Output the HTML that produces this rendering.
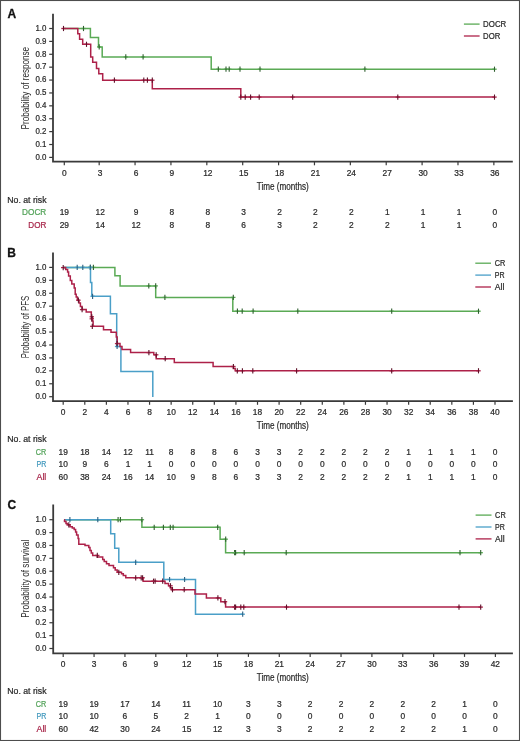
<!DOCTYPE html>
<html><head><meta charset="utf-8"><style>
html,body{margin:0;padding:0;background:#fff;}
body{width:520px;height:741px;overflow:hidden;}
svg{display:block;font-family:"Liberation Sans", sans-serif;will-change:transform;}
</style></head><body>
<svg width="520" height="741" viewBox="0 0 520 741">
<rect x="0" y="0" width="520" height="741" fill="#fff"/>
<text x="7.4" y="17.6" font-size="12" font-weight="bold" fill="#111" stroke="#111" stroke-width="0.3">A</text>
<path d="M53 13.8V161.7H512.8" fill="none" stroke="#3a3a3a" stroke-width="1.8"/>
<path d="M49.2 157.4H53" stroke="#3a3a3a" stroke-width="1.2"/>
<text x="46.4" y="159.7" font-size="8.4" text-anchor="end" fill="#2a2a2a" stroke="#2a2a2a" stroke-width="0.22" textLength="11" lengthAdjust="spacingAndGlyphs">0.0</text>
<path d="M49.2 144.51H53" stroke="#3a3a3a" stroke-width="1.2"/>
<text x="46.4" y="146.81" font-size="8.4" text-anchor="end" fill="#2a2a2a" stroke="#2a2a2a" stroke-width="0.22" textLength="11" lengthAdjust="spacingAndGlyphs">0.1</text>
<path d="M49.2 131.62H53" stroke="#3a3a3a" stroke-width="1.2"/>
<text x="46.4" y="133.92" font-size="8.4" text-anchor="end" fill="#2a2a2a" stroke="#2a2a2a" stroke-width="0.22" textLength="11" lengthAdjust="spacingAndGlyphs">0.2</text>
<path d="M49.2 118.73H53" stroke="#3a3a3a" stroke-width="1.2"/>
<text x="46.4" y="121.03" font-size="8.4" text-anchor="end" fill="#2a2a2a" stroke="#2a2a2a" stroke-width="0.22" textLength="11" lengthAdjust="spacingAndGlyphs">0.3</text>
<path d="M49.2 105.84H53" stroke="#3a3a3a" stroke-width="1.2"/>
<text x="46.4" y="108.14" font-size="8.4" text-anchor="end" fill="#2a2a2a" stroke="#2a2a2a" stroke-width="0.22" textLength="11" lengthAdjust="spacingAndGlyphs">0.4</text>
<path d="M49.2 92.95H53" stroke="#3a3a3a" stroke-width="1.2"/>
<text x="46.4" y="95.25" font-size="8.4" text-anchor="end" fill="#2a2a2a" stroke="#2a2a2a" stroke-width="0.22" textLength="11" lengthAdjust="spacingAndGlyphs">0.5</text>
<path d="M49.2 80.06H53" stroke="#3a3a3a" stroke-width="1.2"/>
<text x="46.4" y="82.36" font-size="8.4" text-anchor="end" fill="#2a2a2a" stroke="#2a2a2a" stroke-width="0.22" textLength="11" lengthAdjust="spacingAndGlyphs">0.6</text>
<path d="M49.2 67.17H53" stroke="#3a3a3a" stroke-width="1.2"/>
<text x="46.4" y="69.47" font-size="8.4" text-anchor="end" fill="#2a2a2a" stroke="#2a2a2a" stroke-width="0.22" textLength="11" lengthAdjust="spacingAndGlyphs">0.7</text>
<path d="M49.2 54.28H53" stroke="#3a3a3a" stroke-width="1.2"/>
<text x="46.4" y="56.58" font-size="8.4" text-anchor="end" fill="#2a2a2a" stroke="#2a2a2a" stroke-width="0.22" textLength="11" lengthAdjust="spacingAndGlyphs">0.8</text>
<path d="M49.2 41.39H53" stroke="#3a3a3a" stroke-width="1.2"/>
<text x="46.4" y="43.69" font-size="8.4" text-anchor="end" fill="#2a2a2a" stroke="#2a2a2a" stroke-width="0.22" textLength="11" lengthAdjust="spacingAndGlyphs">0.9</text>
<path d="M49.2 28.5H53" stroke="#3a3a3a" stroke-width="1.2"/>
<text x="46.4" y="30.8" font-size="8.4" text-anchor="end" fill="#2a2a2a" stroke="#2a2a2a" stroke-width="0.22" textLength="11" lengthAdjust="spacingAndGlyphs">1.0</text>
<path d="M64.3 161.7V165.3" stroke="#3a3a3a" stroke-width="1.2"/>
<text x="64.3" y="175.6" font-size="8.4" text-anchor="middle" fill="#2a2a2a" stroke="#2a2a2a" stroke-width="0.22" >0</text>
<path d="M99.18 161.7V165.3" stroke="#3a3a3a" stroke-width="1.2"/>
<text x="100.18" y="175.6" font-size="8.4" text-anchor="middle" fill="#2a2a2a" stroke="#2a2a2a" stroke-width="0.22" >3</text>
<path d="M135.06 161.7V165.3" stroke="#3a3a3a" stroke-width="1.2"/>
<text x="136.06" y="175.6" font-size="8.4" text-anchor="middle" fill="#2a2a2a" stroke="#2a2a2a" stroke-width="0.22" >6</text>
<path d="M170.94 161.7V165.3" stroke="#3a3a3a" stroke-width="1.2"/>
<text x="171.94" y="175.6" font-size="8.4" text-anchor="middle" fill="#2a2a2a" stroke="#2a2a2a" stroke-width="0.22" >9</text>
<path d="M206.82 161.7V165.3" stroke="#3a3a3a" stroke-width="1.2"/>
<text x="207.82" y="175.6" font-size="8.4" text-anchor="middle" fill="#2a2a2a" stroke="#2a2a2a" stroke-width="0.22" >12</text>
<path d="M242.7 161.7V165.3" stroke="#3a3a3a" stroke-width="1.2"/>
<text x="243.7" y="175.6" font-size="8.4" text-anchor="middle" fill="#2a2a2a" stroke="#2a2a2a" stroke-width="0.22" >15</text>
<path d="M278.58 161.7V165.3" stroke="#3a3a3a" stroke-width="1.2"/>
<text x="279.58" y="175.6" font-size="8.4" text-anchor="middle" fill="#2a2a2a" stroke="#2a2a2a" stroke-width="0.22" >18</text>
<path d="M314.46 161.7V165.3" stroke="#3a3a3a" stroke-width="1.2"/>
<text x="315.46" y="175.6" font-size="8.4" text-anchor="middle" fill="#2a2a2a" stroke="#2a2a2a" stroke-width="0.22" >21</text>
<path d="M350.34 161.7V165.3" stroke="#3a3a3a" stroke-width="1.2"/>
<text x="351.34" y="175.6" font-size="8.4" text-anchor="middle" fill="#2a2a2a" stroke="#2a2a2a" stroke-width="0.22" >24</text>
<path d="M386.22 161.7V165.3" stroke="#3a3a3a" stroke-width="1.2"/>
<text x="387.22" y="175.6" font-size="8.4" text-anchor="middle" fill="#2a2a2a" stroke="#2a2a2a" stroke-width="0.22" >27</text>
<path d="M422.1 161.7V165.3" stroke="#3a3a3a" stroke-width="1.2"/>
<text x="423.1" y="175.6" font-size="8.4" text-anchor="middle" fill="#2a2a2a" stroke="#2a2a2a" stroke-width="0.22" >30</text>
<path d="M457.98 161.7V165.3" stroke="#3a3a3a" stroke-width="1.2"/>
<text x="458.98" y="175.6" font-size="8.4" text-anchor="middle" fill="#2a2a2a" stroke="#2a2a2a" stroke-width="0.22" >33</text>
<path d="M493.86 161.7V165.3" stroke="#3a3a3a" stroke-width="1.2"/>
<text x="494.86" y="175.6" font-size="8.4" text-anchor="middle" fill="#2a2a2a" stroke="#2a2a2a" stroke-width="0.22" >36</text>
<text x="282.8" y="190" font-size="10" text-anchor="middle" fill="#2a2a2a" stroke="#2a2a2a" stroke-width="0.22" textLength="52" lengthAdjust="spacingAndGlyphs">Time (months)</text>
<text transform="translate(28.8 88.2) rotate(-90)" font-size="10" text-anchor="middle" fill="#2a2a2a" textLength="82.5" lengthAdjust="spacingAndGlyphs">Probability of response</text>
<path d="M463.9 24.1H479.6" stroke="#5aaa55" stroke-width="1.3"/>
<text x="483.1" y="27.1" font-size="8.4" text-anchor="start" fill="#2a2a2a" stroke="#2a2a2a" stroke-width="0.22" textLength="23.2" lengthAdjust="spacingAndGlyphs">DOCR</text>
<path d="M463.9 36H479.6" stroke="#ad2149" stroke-width="1.3"/>
<text x="483.1" y="39" font-size="8.4" text-anchor="start" fill="#2a2a2a" stroke="#2a2a2a" stroke-width="0.22" textLength="17.2" lengthAdjust="spacingAndGlyphs">DOR</text>
<text x="7.3" y="203.2" font-size="8.4" text-anchor="start" fill="#2a2a2a" stroke="#2a2a2a" stroke-width="0.22" textLength="39.2" lengthAdjust="spacingAndGlyphs">No. at risk</text>
<text x="46.3" y="215.1" font-size="8.4" text-anchor="end" fill="#52a258" stroke="#52a258" stroke-width="0.22" textLength="24.2" lengthAdjust="spacingAndGlyphs">DOCR</text>
<text x="64.3" y="215.1" font-size="8.4" text-anchor="middle" fill="#2a2a2a" stroke="#2a2a2a" stroke-width="0.22" >19</text>
<text x="100.18" y="215.1" font-size="8.4" text-anchor="middle" fill="#2a2a2a" stroke="#2a2a2a" stroke-width="0.22" >12</text>
<text x="136.06" y="215.1" font-size="8.4" text-anchor="middle" fill="#2a2a2a" stroke="#2a2a2a" stroke-width="0.22" >9</text>
<text x="171.94" y="215.1" font-size="8.4" text-anchor="middle" fill="#2a2a2a" stroke="#2a2a2a" stroke-width="0.22" >8</text>
<text x="207.82" y="215.1" font-size="8.4" text-anchor="middle" fill="#2a2a2a" stroke="#2a2a2a" stroke-width="0.22" >8</text>
<text x="243.7" y="215.1" font-size="8.4" text-anchor="middle" fill="#2a2a2a" stroke="#2a2a2a" stroke-width="0.22" >3</text>
<text x="279.58" y="215.1" font-size="8.4" text-anchor="middle" fill="#2a2a2a" stroke="#2a2a2a" stroke-width="0.22" >2</text>
<text x="315.46" y="215.1" font-size="8.4" text-anchor="middle" fill="#2a2a2a" stroke="#2a2a2a" stroke-width="0.22" >2</text>
<text x="351.34" y="215.1" font-size="8.4" text-anchor="middle" fill="#2a2a2a" stroke="#2a2a2a" stroke-width="0.22" >2</text>
<text x="387.22" y="215.1" font-size="8.4" text-anchor="middle" fill="#2a2a2a" stroke="#2a2a2a" stroke-width="0.22" >1</text>
<text x="423.1" y="215.1" font-size="8.4" text-anchor="middle" fill="#2a2a2a" stroke="#2a2a2a" stroke-width="0.22" >1</text>
<text x="458.98" y="215.1" font-size="8.4" text-anchor="middle" fill="#2a2a2a" stroke="#2a2a2a" stroke-width="0.22" >1</text>
<text x="494.86" y="215.1" font-size="8.4" text-anchor="middle" fill="#2a2a2a" stroke="#2a2a2a" stroke-width="0.22" >0</text>
<text x="46.3" y="227.7" font-size="8.4" text-anchor="end" fill="#a8264a" stroke="#a8264a" stroke-width="0.22" textLength="18.0" lengthAdjust="spacingAndGlyphs">DOR</text>
<text x="64.3" y="227.7" font-size="8.4" text-anchor="middle" fill="#2a2a2a" stroke="#2a2a2a" stroke-width="0.22" >29</text>
<text x="100.18" y="227.7" font-size="8.4" text-anchor="middle" fill="#2a2a2a" stroke="#2a2a2a" stroke-width="0.22" >14</text>
<text x="136.06" y="227.7" font-size="8.4" text-anchor="middle" fill="#2a2a2a" stroke="#2a2a2a" stroke-width="0.22" >12</text>
<text x="171.94" y="227.7" font-size="8.4" text-anchor="middle" fill="#2a2a2a" stroke="#2a2a2a" stroke-width="0.22" >8</text>
<text x="207.82" y="227.7" font-size="8.4" text-anchor="middle" fill="#2a2a2a" stroke="#2a2a2a" stroke-width="0.22" >8</text>
<text x="243.7" y="227.7" font-size="8.4" text-anchor="middle" fill="#2a2a2a" stroke="#2a2a2a" stroke-width="0.22" >6</text>
<text x="279.58" y="227.7" font-size="8.4" text-anchor="middle" fill="#2a2a2a" stroke="#2a2a2a" stroke-width="0.22" >3</text>
<text x="315.46" y="227.7" font-size="8.4" text-anchor="middle" fill="#2a2a2a" stroke="#2a2a2a" stroke-width="0.22" >2</text>
<text x="351.34" y="227.7" font-size="8.4" text-anchor="middle" fill="#2a2a2a" stroke="#2a2a2a" stroke-width="0.22" >2</text>
<text x="387.22" y="227.7" font-size="8.4" text-anchor="middle" fill="#2a2a2a" stroke="#2a2a2a" stroke-width="0.22" >2</text>
<text x="423.1" y="227.7" font-size="8.4" text-anchor="middle" fill="#2a2a2a" stroke="#2a2a2a" stroke-width="0.22" >1</text>
<text x="458.98" y="227.7" font-size="8.4" text-anchor="middle" fill="#2a2a2a" stroke="#2a2a2a" stroke-width="0.22" >1</text>
<text x="494.86" y="227.7" font-size="8.4" text-anchor="middle" fill="#2a2a2a" stroke="#2a2a2a" stroke-width="0.22" >0</text>
<path d="M64.3 28.5 L90.4 28.5 L90.4 37.4 L98.5 37.4 L98.5 46.9 L102.2 46.9 L102.2 56.9 L211.2 56.9 L211.2 69.2 L494.5 69.2" fill="none" stroke="#5aaa55" stroke-width="1.5" stroke-linejoin="miter"/>
<path d="M81.3 28.5h4.4" stroke="#5aaa55" stroke-width="1.3"/><path d="M83.5 25.9v5.2" stroke="#2f5f2f" stroke-width="1.1"/>
<path d="M97 46.9h4.4" stroke="#5aaa55" stroke-width="1.3"/><path d="M99.2 44.3v5.2" stroke="#2f5f2f" stroke-width="1.1"/>
<path d="M123.6 56.9h4.4" stroke="#5aaa55" stroke-width="1.3"/><path d="M125.8 54.3v5.2" stroke="#2f5f2f" stroke-width="1.1"/>
<path d="M140.9 56.9h4.4" stroke="#5aaa55" stroke-width="1.3"/><path d="M143.1 54.3v5.2" stroke="#2f5f2f" stroke-width="1.1"/>
<path d="M216.1 69.2h4.4" stroke="#5aaa55" stroke-width="1.3"/><path d="M218.3 66.6v5.2" stroke="#2f5f2f" stroke-width="1.1"/>
<path d="M223.8 69.2h4.4" stroke="#5aaa55" stroke-width="1.3"/><path d="M226 66.6v5.2" stroke="#2f5f2f" stroke-width="1.1"/>
<path d="M227 69.2h4.4" stroke="#5aaa55" stroke-width="1.3"/><path d="M229.2 66.6v5.2" stroke="#2f5f2f" stroke-width="1.1"/>
<path d="M237.8 69.2h4.4" stroke="#5aaa55" stroke-width="1.3"/><path d="M240 66.6v5.2" stroke="#2f5f2f" stroke-width="1.1"/>
<path d="M257.8 69.2h4.4" stroke="#5aaa55" stroke-width="1.3"/><path d="M260 66.6v5.2" stroke="#2f5f2f" stroke-width="1.1"/>
<path d="M362.7 69.2h4.4" stroke="#5aaa55" stroke-width="1.3"/><path d="M364.9 66.6v5.2" stroke="#2f5f2f" stroke-width="1.1"/>
<path d="M492.3 69.2h4.4" stroke="#5aaa55" stroke-width="1.3"/><path d="M494.5 66.6v5.2" stroke="#2f5f2f" stroke-width="1.1"/>
<path d="M63.5 28.5 L77.8 28.5 L77.8 33.8 L79.6 33.8 L79.6 39.2 L82.7 39.2 L82.7 44.3 L90.7 44.3 L90.7 56.9 L92.7 56.9 L92.7 62.3 L96.5 62.3 L96.5 68.5 L98.8 68.5 L98.8 73.8 L102.7 73.8 L102.7 80.2 L152.3 80.2 L152.3 88.8 L240.8 88.8 L240.8 97.1 L494.5 97.1" fill="none" stroke="#ad2149" stroke-width="1.5" stroke-linejoin="miter"/>
<path d="M61.3 28.5h4.4" stroke="#ad2149" stroke-width="1.3"/><path d="M63.5 25.9v5.2" stroke="#5e1028" stroke-width="1.1"/>
<path d="M84.3 44.3h4.4" stroke="#ad2149" stroke-width="1.3"/><path d="M86.5 41.7v5.2" stroke="#5e1028" stroke-width="1.1"/>
<path d="M112.2 80.2h4.4" stroke="#ad2149" stroke-width="1.3"/><path d="M114.4 77.6v5.2" stroke="#5e1028" stroke-width="1.1"/>
<path d="M141.6 80.2h4.4" stroke="#ad2149" stroke-width="1.3"/><path d="M143.8 77.6v5.2" stroke="#5e1028" stroke-width="1.1"/>
<path d="M145.2 80.2h4.4" stroke="#ad2149" stroke-width="1.3"/><path d="M147.4 77.6v5.2" stroke="#5e1028" stroke-width="1.1"/>
<path d="M150.1 80.2h4.4" stroke="#ad2149" stroke-width="1.3"/><path d="M152.3 77.6v5.2" stroke="#5e1028" stroke-width="1.1"/>
<path d="M238.6 97.1h4.4" stroke="#ad2149" stroke-width="1.3"/><path d="M240.8 94.5v5.2" stroke="#5e1028" stroke-width="1.1"/>
<path d="M243 97.1h4.4" stroke="#ad2149" stroke-width="1.3"/><path d="M245.2 94.5v5.2" stroke="#5e1028" stroke-width="1.1"/>
<path d="M248.4 97.1h4.4" stroke="#ad2149" stroke-width="1.3"/><path d="M250.6 94.5v5.2" stroke="#5e1028" stroke-width="1.1"/>
<path d="M257 97.1h4.4" stroke="#ad2149" stroke-width="1.3"/><path d="M259.2 94.5v5.2" stroke="#5e1028" stroke-width="1.1"/>
<path d="M290.5 97.1h4.4" stroke="#ad2149" stroke-width="1.3"/><path d="M292.7 94.5v5.2" stroke="#5e1028" stroke-width="1.1"/>
<path d="M395.6 97.1h4.4" stroke="#ad2149" stroke-width="1.3"/><path d="M397.8 94.5v5.2" stroke="#5e1028" stroke-width="1.1"/>
<path d="M492.3 97.1h4.4" stroke="#ad2149" stroke-width="1.3"/><path d="M494.5 94.5v5.2" stroke="#5e1028" stroke-width="1.1"/>
<text x="7.2" y="256.8" font-size="12" font-weight="bold" fill="#111" stroke="#111" stroke-width="0.3">B</text>
<path d="M53 252.4V401.2H512.9" fill="none" stroke="#3a3a3a" stroke-width="1.8"/>
<path d="M49.2 396.7H53" stroke="#3a3a3a" stroke-width="1.2"/>
<text x="46.4" y="399" font-size="8.4" text-anchor="end" fill="#2a2a2a" stroke="#2a2a2a" stroke-width="0.22" textLength="11" lengthAdjust="spacingAndGlyphs">0.0</text>
<path d="M49.2 383.77H53" stroke="#3a3a3a" stroke-width="1.2"/>
<text x="46.4" y="386.07" font-size="8.4" text-anchor="end" fill="#2a2a2a" stroke="#2a2a2a" stroke-width="0.22" textLength="11" lengthAdjust="spacingAndGlyphs">0.1</text>
<path d="M49.2 370.84H53" stroke="#3a3a3a" stroke-width="1.2"/>
<text x="46.4" y="373.14" font-size="8.4" text-anchor="end" fill="#2a2a2a" stroke="#2a2a2a" stroke-width="0.22" textLength="11" lengthAdjust="spacingAndGlyphs">0.2</text>
<path d="M49.2 357.91H53" stroke="#3a3a3a" stroke-width="1.2"/>
<text x="46.4" y="360.21" font-size="8.4" text-anchor="end" fill="#2a2a2a" stroke="#2a2a2a" stroke-width="0.22" textLength="11" lengthAdjust="spacingAndGlyphs">0.3</text>
<path d="M49.2 344.98H53" stroke="#3a3a3a" stroke-width="1.2"/>
<text x="46.4" y="347.28" font-size="8.4" text-anchor="end" fill="#2a2a2a" stroke="#2a2a2a" stroke-width="0.22" textLength="11" lengthAdjust="spacingAndGlyphs">0.4</text>
<path d="M49.2 332.05H53" stroke="#3a3a3a" stroke-width="1.2"/>
<text x="46.4" y="334.35" font-size="8.4" text-anchor="end" fill="#2a2a2a" stroke="#2a2a2a" stroke-width="0.22" textLength="11" lengthAdjust="spacingAndGlyphs">0.5</text>
<path d="M49.2 319.12H53" stroke="#3a3a3a" stroke-width="1.2"/>
<text x="46.4" y="321.42" font-size="8.4" text-anchor="end" fill="#2a2a2a" stroke="#2a2a2a" stroke-width="0.22" textLength="11" lengthAdjust="spacingAndGlyphs">0.6</text>
<path d="M49.2 306.19H53" stroke="#3a3a3a" stroke-width="1.2"/>
<text x="46.4" y="308.49" font-size="8.4" text-anchor="end" fill="#2a2a2a" stroke="#2a2a2a" stroke-width="0.22" textLength="11" lengthAdjust="spacingAndGlyphs">0.7</text>
<path d="M49.2 293.26H53" stroke="#3a3a3a" stroke-width="1.2"/>
<text x="46.4" y="295.56" font-size="8.4" text-anchor="end" fill="#2a2a2a" stroke="#2a2a2a" stroke-width="0.22" textLength="11" lengthAdjust="spacingAndGlyphs">0.8</text>
<path d="M49.2 280.33H53" stroke="#3a3a3a" stroke-width="1.2"/>
<text x="46.4" y="282.63" font-size="8.4" text-anchor="end" fill="#2a2a2a" stroke="#2a2a2a" stroke-width="0.22" textLength="11" lengthAdjust="spacingAndGlyphs">0.9</text>
<path d="M49.2 267.4H53" stroke="#3a3a3a" stroke-width="1.2"/>
<text x="46.4" y="269.7" font-size="8.4" text-anchor="end" fill="#2a2a2a" stroke="#2a2a2a" stroke-width="0.22" textLength="11" lengthAdjust="spacingAndGlyphs">1.0</text>
<path d="M63.2 401.2V404.8" stroke="#3a3a3a" stroke-width="1.2"/>
<text x="63.2" y="415.4" font-size="8.4" text-anchor="middle" fill="#2a2a2a" stroke="#2a2a2a" stroke-width="0.22" >0</text>
<path d="M84.79 401.2V404.8" stroke="#3a3a3a" stroke-width="1.2"/>
<text x="84.79" y="415.4" font-size="8.4" text-anchor="middle" fill="#2a2a2a" stroke="#2a2a2a" stroke-width="0.22" >2</text>
<path d="M106.38 401.2V404.8" stroke="#3a3a3a" stroke-width="1.2"/>
<text x="106.38" y="415.4" font-size="8.4" text-anchor="middle" fill="#2a2a2a" stroke="#2a2a2a" stroke-width="0.22" >4</text>
<path d="M127.97 401.2V404.8" stroke="#3a3a3a" stroke-width="1.2"/>
<text x="127.97" y="415.4" font-size="8.4" text-anchor="middle" fill="#2a2a2a" stroke="#2a2a2a" stroke-width="0.22" >6</text>
<path d="M149.56 401.2V404.8" stroke="#3a3a3a" stroke-width="1.2"/>
<text x="149.56" y="415.4" font-size="8.4" text-anchor="middle" fill="#2a2a2a" stroke="#2a2a2a" stroke-width="0.22" >8</text>
<path d="M171.15 401.2V404.8" stroke="#3a3a3a" stroke-width="1.2"/>
<text x="171.15" y="415.4" font-size="8.4" text-anchor="middle" fill="#2a2a2a" stroke="#2a2a2a" stroke-width="0.22" >10</text>
<path d="M192.74 401.2V404.8" stroke="#3a3a3a" stroke-width="1.2"/>
<text x="192.74" y="415.4" font-size="8.4" text-anchor="middle" fill="#2a2a2a" stroke="#2a2a2a" stroke-width="0.22" >12</text>
<path d="M214.33 401.2V404.8" stroke="#3a3a3a" stroke-width="1.2"/>
<text x="214.33" y="415.4" font-size="8.4" text-anchor="middle" fill="#2a2a2a" stroke="#2a2a2a" stroke-width="0.22" >14</text>
<path d="M235.92 401.2V404.8" stroke="#3a3a3a" stroke-width="1.2"/>
<text x="235.92" y="415.4" font-size="8.4" text-anchor="middle" fill="#2a2a2a" stroke="#2a2a2a" stroke-width="0.22" >16</text>
<path d="M257.51 401.2V404.8" stroke="#3a3a3a" stroke-width="1.2"/>
<text x="257.51" y="415.4" font-size="8.4" text-anchor="middle" fill="#2a2a2a" stroke="#2a2a2a" stroke-width="0.22" >18</text>
<path d="M279.1 401.2V404.8" stroke="#3a3a3a" stroke-width="1.2"/>
<text x="279.1" y="415.4" font-size="8.4" text-anchor="middle" fill="#2a2a2a" stroke="#2a2a2a" stroke-width="0.22" >20</text>
<path d="M300.69 401.2V404.8" stroke="#3a3a3a" stroke-width="1.2"/>
<text x="300.69" y="415.4" font-size="8.4" text-anchor="middle" fill="#2a2a2a" stroke="#2a2a2a" stroke-width="0.22" >22</text>
<path d="M322.28 401.2V404.8" stroke="#3a3a3a" stroke-width="1.2"/>
<text x="322.28" y="415.4" font-size="8.4" text-anchor="middle" fill="#2a2a2a" stroke="#2a2a2a" stroke-width="0.22" >24</text>
<path d="M343.87 401.2V404.8" stroke="#3a3a3a" stroke-width="1.2"/>
<text x="343.87" y="415.4" font-size="8.4" text-anchor="middle" fill="#2a2a2a" stroke="#2a2a2a" stroke-width="0.22" >26</text>
<path d="M365.46 401.2V404.8" stroke="#3a3a3a" stroke-width="1.2"/>
<text x="365.46" y="415.4" font-size="8.4" text-anchor="middle" fill="#2a2a2a" stroke="#2a2a2a" stroke-width="0.22" >28</text>
<path d="M387.05 401.2V404.8" stroke="#3a3a3a" stroke-width="1.2"/>
<text x="387.05" y="415.4" font-size="8.4" text-anchor="middle" fill="#2a2a2a" stroke="#2a2a2a" stroke-width="0.22" >30</text>
<path d="M408.64 401.2V404.8" stroke="#3a3a3a" stroke-width="1.2"/>
<text x="408.64" y="415.4" font-size="8.4" text-anchor="middle" fill="#2a2a2a" stroke="#2a2a2a" stroke-width="0.22" >32</text>
<path d="M430.23 401.2V404.8" stroke="#3a3a3a" stroke-width="1.2"/>
<text x="430.23" y="415.4" font-size="8.4" text-anchor="middle" fill="#2a2a2a" stroke="#2a2a2a" stroke-width="0.22" >34</text>
<path d="M451.82 401.2V404.8" stroke="#3a3a3a" stroke-width="1.2"/>
<text x="451.82" y="415.4" font-size="8.4" text-anchor="middle" fill="#2a2a2a" stroke="#2a2a2a" stroke-width="0.22" >36</text>
<path d="M473.41 401.2V404.8" stroke="#3a3a3a" stroke-width="1.2"/>
<text x="473.41" y="415.4" font-size="8.4" text-anchor="middle" fill="#2a2a2a" stroke="#2a2a2a" stroke-width="0.22" >38</text>
<path d="M495 401.2V404.8" stroke="#3a3a3a" stroke-width="1.2"/>
<text x="495" y="415.4" font-size="8.4" text-anchor="middle" fill="#2a2a2a" stroke="#2a2a2a" stroke-width="0.22" >40</text>
<text x="282.8" y="429.4" font-size="10" text-anchor="middle" fill="#2a2a2a" stroke="#2a2a2a" stroke-width="0.22" textLength="52" lengthAdjust="spacingAndGlyphs">Time (months)</text>
<text transform="translate(28.8 327) rotate(-90)" font-size="10" text-anchor="middle" fill="#2a2a2a" textLength="62.6" lengthAdjust="spacingAndGlyphs">Probability of PFS</text>
<path d="M475.3 263.2H491" stroke="#5aaa55" stroke-width="1.3"/>
<text x="494.8" y="266.2" font-size="8.4" text-anchor="start" fill="#2a2a2a" stroke="#2a2a2a" stroke-width="0.22" textLength="10.6" lengthAdjust="spacingAndGlyphs">CR</text>
<path d="M475.3 275.1H491" stroke="#4a9fc8" stroke-width="1.3"/>
<text x="494.8" y="278.1" font-size="8.4" text-anchor="start" fill="#2a2a2a" stroke="#2a2a2a" stroke-width="0.22" textLength="9.8" lengthAdjust="spacingAndGlyphs">PR</text>
<path d="M475.3 287H491" stroke="#ad2149" stroke-width="1.3"/>
<text x="494.8" y="290" font-size="8.4" text-anchor="start" fill="#2a2a2a" stroke="#2a2a2a" stroke-width="0.22" textLength="9.5" lengthAdjust="spacingAndGlyphs">All</text>
<text x="7.3" y="442.4" font-size="8.4" text-anchor="start" fill="#2a2a2a" stroke="#2a2a2a" stroke-width="0.22" textLength="39.2" lengthAdjust="spacingAndGlyphs">No. at risk</text>
<text x="46.3" y="454.6" font-size="8.4" text-anchor="end" fill="#52a258" stroke="#52a258" stroke-width="0.22" textLength="10.5" lengthAdjust="spacingAndGlyphs">CR</text>
<text x="63.2" y="454.6" font-size="8.4" text-anchor="middle" fill="#2a2a2a" stroke="#2a2a2a" stroke-width="0.22" >19</text>
<text x="84.79" y="454.6" font-size="8.4" text-anchor="middle" fill="#2a2a2a" stroke="#2a2a2a" stroke-width="0.22" >18</text>
<text x="106.38" y="454.6" font-size="8.4" text-anchor="middle" fill="#2a2a2a" stroke="#2a2a2a" stroke-width="0.22" >14</text>
<text x="127.97" y="454.6" font-size="8.4" text-anchor="middle" fill="#2a2a2a" stroke="#2a2a2a" stroke-width="0.22" >12</text>
<text x="149.56" y="454.6" font-size="8.4" text-anchor="middle" fill="#2a2a2a" stroke="#2a2a2a" stroke-width="0.22" >11</text>
<text x="171.15" y="454.6" font-size="8.4" text-anchor="middle" fill="#2a2a2a" stroke="#2a2a2a" stroke-width="0.22" >8</text>
<text x="192.74" y="454.6" font-size="8.4" text-anchor="middle" fill="#2a2a2a" stroke="#2a2a2a" stroke-width="0.22" >8</text>
<text x="214.33" y="454.6" font-size="8.4" text-anchor="middle" fill="#2a2a2a" stroke="#2a2a2a" stroke-width="0.22" >8</text>
<text x="235.92" y="454.6" font-size="8.4" text-anchor="middle" fill="#2a2a2a" stroke="#2a2a2a" stroke-width="0.22" >6</text>
<text x="257.51" y="454.6" font-size="8.4" text-anchor="middle" fill="#2a2a2a" stroke="#2a2a2a" stroke-width="0.22" >3</text>
<text x="279.1" y="454.6" font-size="8.4" text-anchor="middle" fill="#2a2a2a" stroke="#2a2a2a" stroke-width="0.22" >3</text>
<text x="300.69" y="454.6" font-size="8.4" text-anchor="middle" fill="#2a2a2a" stroke="#2a2a2a" stroke-width="0.22" >2</text>
<text x="322.28" y="454.6" font-size="8.4" text-anchor="middle" fill="#2a2a2a" stroke="#2a2a2a" stroke-width="0.22" >2</text>
<text x="343.87" y="454.6" font-size="8.4" text-anchor="middle" fill="#2a2a2a" stroke="#2a2a2a" stroke-width="0.22" >2</text>
<text x="365.46" y="454.6" font-size="8.4" text-anchor="middle" fill="#2a2a2a" stroke="#2a2a2a" stroke-width="0.22" >2</text>
<text x="387.05" y="454.6" font-size="8.4" text-anchor="middle" fill="#2a2a2a" stroke="#2a2a2a" stroke-width="0.22" >2</text>
<text x="408.64" y="454.6" font-size="8.4" text-anchor="middle" fill="#2a2a2a" stroke="#2a2a2a" stroke-width="0.22" >1</text>
<text x="430.23" y="454.6" font-size="8.4" text-anchor="middle" fill="#2a2a2a" stroke="#2a2a2a" stroke-width="0.22" >1</text>
<text x="451.82" y="454.6" font-size="8.4" text-anchor="middle" fill="#2a2a2a" stroke="#2a2a2a" stroke-width="0.22" >1</text>
<text x="473.41" y="454.6" font-size="8.4" text-anchor="middle" fill="#2a2a2a" stroke="#2a2a2a" stroke-width="0.22" >1</text>
<text x="495" y="454.6" font-size="8.4" text-anchor="middle" fill="#2a2a2a" stroke="#2a2a2a" stroke-width="0.22" >0</text>
<text x="46.3" y="467.2" font-size="8.4" text-anchor="end" fill="#4299bd" stroke="#4299bd" stroke-width="0.22" textLength="9.8" lengthAdjust="spacingAndGlyphs">PR</text>
<text x="63.2" y="467.2" font-size="8.4" text-anchor="middle" fill="#2a2a2a" stroke="#2a2a2a" stroke-width="0.22" >10</text>
<text x="84.79" y="467.2" font-size="8.4" text-anchor="middle" fill="#2a2a2a" stroke="#2a2a2a" stroke-width="0.22" >9</text>
<text x="106.38" y="467.2" font-size="8.4" text-anchor="middle" fill="#2a2a2a" stroke="#2a2a2a" stroke-width="0.22" >6</text>
<text x="127.97" y="467.2" font-size="8.4" text-anchor="middle" fill="#2a2a2a" stroke="#2a2a2a" stroke-width="0.22" >1</text>
<text x="149.56" y="467.2" font-size="8.4" text-anchor="middle" fill="#2a2a2a" stroke="#2a2a2a" stroke-width="0.22" >1</text>
<text x="171.15" y="467.2" font-size="8.4" text-anchor="middle" fill="#2a2a2a" stroke="#2a2a2a" stroke-width="0.22" >0</text>
<text x="192.74" y="467.2" font-size="8.4" text-anchor="middle" fill="#2a2a2a" stroke="#2a2a2a" stroke-width="0.22" >0</text>
<text x="214.33" y="467.2" font-size="8.4" text-anchor="middle" fill="#2a2a2a" stroke="#2a2a2a" stroke-width="0.22" >0</text>
<text x="235.92" y="467.2" font-size="8.4" text-anchor="middle" fill="#2a2a2a" stroke="#2a2a2a" stroke-width="0.22" >0</text>
<text x="257.51" y="467.2" font-size="8.4" text-anchor="middle" fill="#2a2a2a" stroke="#2a2a2a" stroke-width="0.22" >0</text>
<text x="279.1" y="467.2" font-size="8.4" text-anchor="middle" fill="#2a2a2a" stroke="#2a2a2a" stroke-width="0.22" >0</text>
<text x="300.69" y="467.2" font-size="8.4" text-anchor="middle" fill="#2a2a2a" stroke="#2a2a2a" stroke-width="0.22" >0</text>
<text x="322.28" y="467.2" font-size="8.4" text-anchor="middle" fill="#2a2a2a" stroke="#2a2a2a" stroke-width="0.22" >0</text>
<text x="343.87" y="467.2" font-size="8.4" text-anchor="middle" fill="#2a2a2a" stroke="#2a2a2a" stroke-width="0.22" >0</text>
<text x="365.46" y="467.2" font-size="8.4" text-anchor="middle" fill="#2a2a2a" stroke="#2a2a2a" stroke-width="0.22" >0</text>
<text x="387.05" y="467.2" font-size="8.4" text-anchor="middle" fill="#2a2a2a" stroke="#2a2a2a" stroke-width="0.22" >0</text>
<text x="408.64" y="467.2" font-size="8.4" text-anchor="middle" fill="#2a2a2a" stroke="#2a2a2a" stroke-width="0.22" >0</text>
<text x="430.23" y="467.2" font-size="8.4" text-anchor="middle" fill="#2a2a2a" stroke="#2a2a2a" stroke-width="0.22" >0</text>
<text x="451.82" y="467.2" font-size="8.4" text-anchor="middle" fill="#2a2a2a" stroke="#2a2a2a" stroke-width="0.22" >0</text>
<text x="473.41" y="467.2" font-size="8.4" text-anchor="middle" fill="#2a2a2a" stroke="#2a2a2a" stroke-width="0.22" >0</text>
<text x="495" y="467.2" font-size="8.4" text-anchor="middle" fill="#2a2a2a" stroke="#2a2a2a" stroke-width="0.22" >0</text>
<text x="46.3" y="479.5" font-size="8.4" text-anchor="end" fill="#a8264a" stroke="#a8264a" stroke-width="0.22" textLength="9.8" lengthAdjust="spacingAndGlyphs">All</text>
<text x="63.2" y="479.5" font-size="8.4" text-anchor="middle" fill="#2a2a2a" stroke="#2a2a2a" stroke-width="0.22" >60</text>
<text x="84.79" y="479.5" font-size="8.4" text-anchor="middle" fill="#2a2a2a" stroke="#2a2a2a" stroke-width="0.22" >38</text>
<text x="106.38" y="479.5" font-size="8.4" text-anchor="middle" fill="#2a2a2a" stroke="#2a2a2a" stroke-width="0.22" >24</text>
<text x="127.97" y="479.5" font-size="8.4" text-anchor="middle" fill="#2a2a2a" stroke="#2a2a2a" stroke-width="0.22" >16</text>
<text x="149.56" y="479.5" font-size="8.4" text-anchor="middle" fill="#2a2a2a" stroke="#2a2a2a" stroke-width="0.22" >14</text>
<text x="171.15" y="479.5" font-size="8.4" text-anchor="middle" fill="#2a2a2a" stroke="#2a2a2a" stroke-width="0.22" >10</text>
<text x="192.74" y="479.5" font-size="8.4" text-anchor="middle" fill="#2a2a2a" stroke="#2a2a2a" stroke-width="0.22" >9</text>
<text x="214.33" y="479.5" font-size="8.4" text-anchor="middle" fill="#2a2a2a" stroke="#2a2a2a" stroke-width="0.22" >8</text>
<text x="235.92" y="479.5" font-size="8.4" text-anchor="middle" fill="#2a2a2a" stroke="#2a2a2a" stroke-width="0.22" >6</text>
<text x="257.51" y="479.5" font-size="8.4" text-anchor="middle" fill="#2a2a2a" stroke="#2a2a2a" stroke-width="0.22" >3</text>
<text x="279.1" y="479.5" font-size="8.4" text-anchor="middle" fill="#2a2a2a" stroke="#2a2a2a" stroke-width="0.22" >3</text>
<text x="300.69" y="479.5" font-size="8.4" text-anchor="middle" fill="#2a2a2a" stroke="#2a2a2a" stroke-width="0.22" >2</text>
<text x="322.28" y="479.5" font-size="8.4" text-anchor="middle" fill="#2a2a2a" stroke="#2a2a2a" stroke-width="0.22" >2</text>
<text x="343.87" y="479.5" font-size="8.4" text-anchor="middle" fill="#2a2a2a" stroke="#2a2a2a" stroke-width="0.22" >2</text>
<text x="365.46" y="479.5" font-size="8.4" text-anchor="middle" fill="#2a2a2a" stroke="#2a2a2a" stroke-width="0.22" >2</text>
<text x="387.05" y="479.5" font-size="8.4" text-anchor="middle" fill="#2a2a2a" stroke="#2a2a2a" stroke-width="0.22" >2</text>
<text x="408.64" y="479.5" font-size="8.4" text-anchor="middle" fill="#2a2a2a" stroke="#2a2a2a" stroke-width="0.22" >1</text>
<text x="430.23" y="479.5" font-size="8.4" text-anchor="middle" fill="#2a2a2a" stroke="#2a2a2a" stroke-width="0.22" >1</text>
<text x="451.82" y="479.5" font-size="8.4" text-anchor="middle" fill="#2a2a2a" stroke="#2a2a2a" stroke-width="0.22" >1</text>
<text x="473.41" y="479.5" font-size="8.4" text-anchor="middle" fill="#2a2a2a" stroke="#2a2a2a" stroke-width="0.22" >1</text>
<text x="495" y="479.5" font-size="8.4" text-anchor="middle" fill="#2a2a2a" stroke="#2a2a2a" stroke-width="0.22" >0</text>
<path d="M63.2 267.4 L114.9 267.4 L114.9 275.8 L120.1 275.8 L120.1 285.9 L155.7 285.9 L155.7 297.4 L232.8 297.4 L232.8 311.2 L478.5 311.2" fill="none" stroke="#5aaa55" stroke-width="1.5" stroke-linejoin="miter"/>
<path d="M88.2 267.4h4.4" stroke="#5aaa55" stroke-width="1.3"/><path d="M90.4 264.8v5.2" stroke="#2f5f2f" stroke-width="1.1"/>
<path d="M91.2 267.4h4.4" stroke="#5aaa55" stroke-width="1.3"/><path d="M93.4 264.8v5.2" stroke="#2f5f2f" stroke-width="1.1"/>
<path d="M146.6 285.9h4.4" stroke="#5aaa55" stroke-width="1.3"/><path d="M148.8 283.3v5.2" stroke="#2f5f2f" stroke-width="1.1"/>
<path d="M153.5 285.9h4.4" stroke="#5aaa55" stroke-width="1.3"/><path d="M155.7 283.3v5.2" stroke="#2f5f2f" stroke-width="1.1"/>
<path d="M162.7 297.4h4.4" stroke="#5aaa55" stroke-width="1.3"/><path d="M164.9 294.8v5.2" stroke="#2f5f2f" stroke-width="1.1"/>
<path d="M231.1 297.4h4.4" stroke="#5aaa55" stroke-width="1.3"/><path d="M233.3 294.8v5.2" stroke="#2f5f2f" stroke-width="1.1"/>
<path d="M235.2 311.2h4.4" stroke="#5aaa55" stroke-width="1.3"/><path d="M237.4 308.6v5.2" stroke="#2f5f2f" stroke-width="1.1"/>
<path d="M240 311.2h4.4" stroke="#5aaa55" stroke-width="1.3"/><path d="M242.2 308.6v5.2" stroke="#2f5f2f" stroke-width="1.1"/>
<path d="M250.9 311.2h4.4" stroke="#5aaa55" stroke-width="1.3"/><path d="M253.1 308.6v5.2" stroke="#2f5f2f" stroke-width="1.1"/>
<path d="M295.6 311.2h4.4" stroke="#5aaa55" stroke-width="1.3"/><path d="M297.8 308.6v5.2" stroke="#2f5f2f" stroke-width="1.1"/>
<path d="M389.5 311.2h4.4" stroke="#5aaa55" stroke-width="1.3"/><path d="M391.7 308.6v5.2" stroke="#2f5f2f" stroke-width="1.1"/>
<path d="M476.3 311.2h4.4" stroke="#5aaa55" stroke-width="1.3"/><path d="M478.5 308.6v5.2" stroke="#2f5f2f" stroke-width="1.1"/>
<path d="M63.2 267.4 L90.5 267.4 L90.5 282.4 L91.8 282.4 L91.8 296.3 L110.4 296.3 L110.4 313.7 L116.7 313.7 L116.7 346.5 L120.9 346.5 L120.9 371.4 L152.8 371.4 L152.8 396.9" fill="none" stroke="#4a9fc8" stroke-width="1.5" stroke-linejoin="miter"/>
<path d="M75 267.4h4.4" stroke="#4a9fc8" stroke-width="1.3"/><path d="M77.2 264.8v5.2" stroke="#2a5f80" stroke-width="1.1"/>
<path d="M80.6 267.4h4.4" stroke="#4a9fc8" stroke-width="1.3"/><path d="M82.8 264.8v5.2" stroke="#2a5f80" stroke-width="1.1"/>
<path d="M88.1 267.4h4.4" stroke="#4a9fc8" stroke-width="1.3"/><path d="M90.3 264.8v5.2" stroke="#2a5f80" stroke-width="1.1"/>
<path d="M90.4 296.3h4.4" stroke="#4a9fc8" stroke-width="1.3"/><path d="M92.6 293.7v5.2" stroke="#2a5f80" stroke-width="1.1"/>
<path d="M114.9 346.5h4.4" stroke="#4a9fc8" stroke-width="1.3"/><path d="M117.1 343.9v5.2" stroke="#2a5f80" stroke-width="1.1"/>
<path d="M63.2 267.6 L65.7 267.6 L65.7 269.5 L67.6 269.5 L67.6 272 L68.6 272 L68.6 276 L70.3 276 L70.3 280.5 L71.8 280.5 L71.8 283.9 L74.2 283.9 L74.2 288 L75.2 288 L75.2 294.3 L76.2 294.3 L76.2 297 L77.4 297 L77.4 300.2 L79 300.2 L79 303 L80.4 303 L80.4 306.5 L82.1 306.5 L82.1 309.6 L86.2 309.6 L86.2 311.9 L91.3 311.9 L91.3 316.8 L92.2 316.8 L92.2 321 L93.1 321 L93.1 326.3 L103.5 326.3 L103.5 329.8 L111 329.8 L111 332.3 L116.3 332.3 L116.3 337 L117.2 337 L117.2 343.6 L120 343.6 L120 346.5 L122 346.5 L122 349.4 L130.6 349.4 L130.6 352.6 L153.8 352.6 L153.8 354.8 L156.2 354.8 L156.2 358.7 L174.3 358.7 L174.3 362.6 L213.1 362.6 L213.1 366.5 L233.4 366.5 L233.4 368.5 L235.2 368.5 L235.2 370.8 L478.5 370.8" fill="none" stroke="#ad2149" stroke-width="1.5" stroke-linejoin="miter"/>
<path d="M61 267.6h4.4" stroke="#ad2149" stroke-width="1.3"/><path d="M63.2 265v5.2" stroke="#5e1028" stroke-width="1.1"/>
<path d="M76.2 300.2h4.4" stroke="#ad2149" stroke-width="1.3"/><path d="M78.4 297.6v5.2" stroke="#5e1028" stroke-width="1.1"/>
<path d="M79.9 309.6h4.4" stroke="#ad2149" stroke-width="1.3"/><path d="M82.1 307v5.2" stroke="#5e1028" stroke-width="1.1"/>
<path d="M89.6 316.8h4.4" stroke="#ad2149" stroke-width="1.3"/><path d="M91.8 314.2v5.2" stroke="#5e1028" stroke-width="1.1"/>
<path d="M89.6 318.8h4.4" stroke="#ad2149" stroke-width="1.3"/><path d="M91.8 316.2v5.2" stroke="#5e1028" stroke-width="1.1"/>
<path d="M90.1 326.3h4.4" stroke="#ad2149" stroke-width="1.3"/><path d="M92.3 323.7v5.2" stroke="#5e1028" stroke-width="1.1"/>
<path d="M114.9 343.6h4.4" stroke="#ad2149" stroke-width="1.3"/><path d="M117.1 341v5.2" stroke="#5e1028" stroke-width="1.1"/>
<path d="M146.7 352.6h4.4" stroke="#ad2149" stroke-width="1.3"/><path d="M148.9 350v5.2" stroke="#5e1028" stroke-width="1.1"/>
<path d="M154 354.8h4.4" stroke="#ad2149" stroke-width="1.3"/><path d="M156.2 352.2v5.2" stroke="#5e1028" stroke-width="1.1"/>
<path d="M163 358.7h4.4" stroke="#ad2149" stroke-width="1.3"/><path d="M165.2 356.1v5.2" stroke="#5e1028" stroke-width="1.1"/>
<path d="M231.2 366.5h4.4" stroke="#ad2149" stroke-width="1.3"/><path d="M233.4 363.9v5.2" stroke="#5e1028" stroke-width="1.1"/>
<path d="M235.1 370.8h4.4" stroke="#ad2149" stroke-width="1.3"/><path d="M237.3 368.2v5.2" stroke="#5e1028" stroke-width="1.1"/>
<path d="M240.2 370.8h4.4" stroke="#ad2149" stroke-width="1.3"/><path d="M242.4 368.2v5.2" stroke="#5e1028" stroke-width="1.1"/>
<path d="M250.6 370.8h4.4" stroke="#ad2149" stroke-width="1.3"/><path d="M252.8 368.2v5.2" stroke="#5e1028" stroke-width="1.1"/>
<path d="M294.4 370.8h4.4" stroke="#ad2149" stroke-width="1.3"/><path d="M296.6 368.2v5.2" stroke="#5e1028" stroke-width="1.1"/>
<path d="M389.5 370.8h4.4" stroke="#ad2149" stroke-width="1.3"/><path d="M391.7 368.2v5.2" stroke="#5e1028" stroke-width="1.1"/>
<path d="M476.3 370.8h4.4" stroke="#ad2149" stroke-width="1.3"/><path d="M478.5 368.2v5.2" stroke="#5e1028" stroke-width="1.1"/>
<text x="7.4" y="508.6" font-size="12" font-weight="bold" fill="#111" stroke="#111" stroke-width="0.3">C</text>
<path d="M53.2 504.6V653.3H512.9" fill="none" stroke="#3a3a3a" stroke-width="1.8"/>
<path d="M49.4 648.5H53.2" stroke="#3a3a3a" stroke-width="1.2"/>
<text x="46.4" y="650.8" font-size="8.4" text-anchor="end" fill="#2a2a2a" stroke="#2a2a2a" stroke-width="0.22" textLength="11" lengthAdjust="spacingAndGlyphs">0.0</text>
<path d="M49.4 635.62H53.2" stroke="#3a3a3a" stroke-width="1.2"/>
<text x="46.4" y="637.92" font-size="8.4" text-anchor="end" fill="#2a2a2a" stroke="#2a2a2a" stroke-width="0.22" textLength="11" lengthAdjust="spacingAndGlyphs">0.1</text>
<path d="M49.4 622.74H53.2" stroke="#3a3a3a" stroke-width="1.2"/>
<text x="46.4" y="625.04" font-size="8.4" text-anchor="end" fill="#2a2a2a" stroke="#2a2a2a" stroke-width="0.22" textLength="11" lengthAdjust="spacingAndGlyphs">0.2</text>
<path d="M49.4 609.86H53.2" stroke="#3a3a3a" stroke-width="1.2"/>
<text x="46.4" y="612.16" font-size="8.4" text-anchor="end" fill="#2a2a2a" stroke="#2a2a2a" stroke-width="0.22" textLength="11" lengthAdjust="spacingAndGlyphs">0.3</text>
<path d="M49.4 596.98H53.2" stroke="#3a3a3a" stroke-width="1.2"/>
<text x="46.4" y="599.28" font-size="8.4" text-anchor="end" fill="#2a2a2a" stroke="#2a2a2a" stroke-width="0.22" textLength="11" lengthAdjust="spacingAndGlyphs">0.4</text>
<path d="M49.4 584.1H53.2" stroke="#3a3a3a" stroke-width="1.2"/>
<text x="46.4" y="586.4" font-size="8.4" text-anchor="end" fill="#2a2a2a" stroke="#2a2a2a" stroke-width="0.22" textLength="11" lengthAdjust="spacingAndGlyphs">0.5</text>
<path d="M49.4 571.22H53.2" stroke="#3a3a3a" stroke-width="1.2"/>
<text x="46.4" y="573.52" font-size="8.4" text-anchor="end" fill="#2a2a2a" stroke="#2a2a2a" stroke-width="0.22" textLength="11" lengthAdjust="spacingAndGlyphs">0.6</text>
<path d="M49.4 558.34H53.2" stroke="#3a3a3a" stroke-width="1.2"/>
<text x="46.4" y="560.64" font-size="8.4" text-anchor="end" fill="#2a2a2a" stroke="#2a2a2a" stroke-width="0.22" textLength="11" lengthAdjust="spacingAndGlyphs">0.7</text>
<path d="M49.4 545.46H53.2" stroke="#3a3a3a" stroke-width="1.2"/>
<text x="46.4" y="547.76" font-size="8.4" text-anchor="end" fill="#2a2a2a" stroke="#2a2a2a" stroke-width="0.22" textLength="11" lengthAdjust="spacingAndGlyphs">0.8</text>
<path d="M49.4 532.58H53.2" stroke="#3a3a3a" stroke-width="1.2"/>
<text x="46.4" y="534.88" font-size="8.4" text-anchor="end" fill="#2a2a2a" stroke="#2a2a2a" stroke-width="0.22" textLength="11" lengthAdjust="spacingAndGlyphs">0.9</text>
<path d="M49.4 519.7H53.2" stroke="#3a3a3a" stroke-width="1.2"/>
<text x="46.4" y="522" font-size="8.4" text-anchor="end" fill="#2a2a2a" stroke="#2a2a2a" stroke-width="0.22" textLength="11" lengthAdjust="spacingAndGlyphs">1.0</text>
<path d="M63.2 653.3V656.9" stroke="#3a3a3a" stroke-width="1.2"/>
<text x="63.2" y="667" font-size="8.4" text-anchor="middle" fill="#2a2a2a" stroke="#2a2a2a" stroke-width="0.22" >0</text>
<path d="M94.07 653.3V656.9" stroke="#3a3a3a" stroke-width="1.2"/>
<text x="94.07" y="667" font-size="8.4" text-anchor="middle" fill="#2a2a2a" stroke="#2a2a2a" stroke-width="0.22" >3</text>
<path d="M124.94 653.3V656.9" stroke="#3a3a3a" stroke-width="1.2"/>
<text x="124.94" y="667" font-size="8.4" text-anchor="middle" fill="#2a2a2a" stroke="#2a2a2a" stroke-width="0.22" >6</text>
<path d="M155.81 653.3V656.9" stroke="#3a3a3a" stroke-width="1.2"/>
<text x="155.81" y="667" font-size="8.4" text-anchor="middle" fill="#2a2a2a" stroke="#2a2a2a" stroke-width="0.22" >9</text>
<path d="M186.68 653.3V656.9" stroke="#3a3a3a" stroke-width="1.2"/>
<text x="186.68" y="667" font-size="8.4" text-anchor="middle" fill="#2a2a2a" stroke="#2a2a2a" stroke-width="0.22" >12</text>
<path d="M217.55 653.3V656.9" stroke="#3a3a3a" stroke-width="1.2"/>
<text x="217.55" y="667" font-size="8.4" text-anchor="middle" fill="#2a2a2a" stroke="#2a2a2a" stroke-width="0.22" >15</text>
<path d="M248.42 653.3V656.9" stroke="#3a3a3a" stroke-width="1.2"/>
<text x="248.42" y="667" font-size="8.4" text-anchor="middle" fill="#2a2a2a" stroke="#2a2a2a" stroke-width="0.22" >18</text>
<path d="M279.29 653.3V656.9" stroke="#3a3a3a" stroke-width="1.2"/>
<text x="279.29" y="667" font-size="8.4" text-anchor="middle" fill="#2a2a2a" stroke="#2a2a2a" stroke-width="0.22" >21</text>
<path d="M310.16 653.3V656.9" stroke="#3a3a3a" stroke-width="1.2"/>
<text x="310.16" y="667" font-size="8.4" text-anchor="middle" fill="#2a2a2a" stroke="#2a2a2a" stroke-width="0.22" >24</text>
<path d="M341.03 653.3V656.9" stroke="#3a3a3a" stroke-width="1.2"/>
<text x="341.03" y="667" font-size="8.4" text-anchor="middle" fill="#2a2a2a" stroke="#2a2a2a" stroke-width="0.22" >27</text>
<path d="M371.9 653.3V656.9" stroke="#3a3a3a" stroke-width="1.2"/>
<text x="371.9" y="667" font-size="8.4" text-anchor="middle" fill="#2a2a2a" stroke="#2a2a2a" stroke-width="0.22" >30</text>
<path d="M402.77 653.3V656.9" stroke="#3a3a3a" stroke-width="1.2"/>
<text x="402.77" y="667" font-size="8.4" text-anchor="middle" fill="#2a2a2a" stroke="#2a2a2a" stroke-width="0.22" >33</text>
<path d="M433.64 653.3V656.9" stroke="#3a3a3a" stroke-width="1.2"/>
<text x="433.64" y="667" font-size="8.4" text-anchor="middle" fill="#2a2a2a" stroke="#2a2a2a" stroke-width="0.22" >36</text>
<path d="M464.51 653.3V656.9" stroke="#3a3a3a" stroke-width="1.2"/>
<text x="464.51" y="667" font-size="8.4" text-anchor="middle" fill="#2a2a2a" stroke="#2a2a2a" stroke-width="0.22" >39</text>
<path d="M495.38 653.3V656.9" stroke="#3a3a3a" stroke-width="1.2"/>
<text x="495.38" y="667" font-size="8.4" text-anchor="middle" fill="#2a2a2a" stroke="#2a2a2a" stroke-width="0.22" >42</text>
<text x="282.8" y="681.2" font-size="10" text-anchor="middle" fill="#2a2a2a" stroke="#2a2a2a" stroke-width="0.22" textLength="52" lengthAdjust="spacingAndGlyphs">Time (months)</text>
<text transform="translate(28.8 578.7) rotate(-90)" font-size="10" text-anchor="middle" fill="#2a2a2a" textLength="78" lengthAdjust="spacingAndGlyphs">Probability of survival</text>
<path d="M475.6 515.1H491.5" stroke="#5aaa55" stroke-width="1.3"/>
<text x="495.1" y="518.1" font-size="8.4" text-anchor="start" fill="#2a2a2a" stroke="#2a2a2a" stroke-width="0.22" textLength="10.6" lengthAdjust="spacingAndGlyphs">CR</text>
<path d="M475.6 527H491.5" stroke="#4a9fc8" stroke-width="1.3"/>
<text x="495.1" y="530" font-size="8.4" text-anchor="start" fill="#2a2a2a" stroke="#2a2a2a" stroke-width="0.22" textLength="9.8" lengthAdjust="spacingAndGlyphs">PR</text>
<path d="M475.6 538.9H491.5" stroke="#ad2149" stroke-width="1.3"/>
<text x="495.1" y="541.9" font-size="8.4" text-anchor="start" fill="#2a2a2a" stroke="#2a2a2a" stroke-width="0.22" textLength="9.5" lengthAdjust="spacingAndGlyphs">All</text>
<text x="7.3" y="694.4" font-size="8.4" text-anchor="start" fill="#2a2a2a" stroke="#2a2a2a" stroke-width="0.22" textLength="39.2" lengthAdjust="spacingAndGlyphs">No. at risk</text>
<text x="46.3" y="706.6" font-size="8.4" text-anchor="end" fill="#52a258" stroke="#52a258" stroke-width="0.22" textLength="10.5" lengthAdjust="spacingAndGlyphs">CR</text>
<text x="63.2" y="706.6" font-size="8.4" text-anchor="middle" fill="#2a2a2a" stroke="#2a2a2a" stroke-width="0.22" >19</text>
<text x="94.07" y="706.6" font-size="8.4" text-anchor="middle" fill="#2a2a2a" stroke="#2a2a2a" stroke-width="0.22" >19</text>
<text x="124.94" y="706.6" font-size="8.4" text-anchor="middle" fill="#2a2a2a" stroke="#2a2a2a" stroke-width="0.22" >17</text>
<text x="155.81" y="706.6" font-size="8.4" text-anchor="middle" fill="#2a2a2a" stroke="#2a2a2a" stroke-width="0.22" >14</text>
<text x="186.68" y="706.6" font-size="8.4" text-anchor="middle" fill="#2a2a2a" stroke="#2a2a2a" stroke-width="0.22" >11</text>
<text x="217.55" y="706.6" font-size="8.4" text-anchor="middle" fill="#2a2a2a" stroke="#2a2a2a" stroke-width="0.22" >10</text>
<text x="248.42" y="706.6" font-size="8.4" text-anchor="middle" fill="#2a2a2a" stroke="#2a2a2a" stroke-width="0.22" >3</text>
<text x="279.29" y="706.6" font-size="8.4" text-anchor="middle" fill="#2a2a2a" stroke="#2a2a2a" stroke-width="0.22" >3</text>
<text x="310.16" y="706.6" font-size="8.4" text-anchor="middle" fill="#2a2a2a" stroke="#2a2a2a" stroke-width="0.22" >2</text>
<text x="341.03" y="706.6" font-size="8.4" text-anchor="middle" fill="#2a2a2a" stroke="#2a2a2a" stroke-width="0.22" >2</text>
<text x="371.9" y="706.6" font-size="8.4" text-anchor="middle" fill="#2a2a2a" stroke="#2a2a2a" stroke-width="0.22" >2</text>
<text x="402.77" y="706.6" font-size="8.4" text-anchor="middle" fill="#2a2a2a" stroke="#2a2a2a" stroke-width="0.22" >2</text>
<text x="433.64" y="706.6" font-size="8.4" text-anchor="middle" fill="#2a2a2a" stroke="#2a2a2a" stroke-width="0.22" >2</text>
<text x="464.51" y="706.6" font-size="8.4" text-anchor="middle" fill="#2a2a2a" stroke="#2a2a2a" stroke-width="0.22" >1</text>
<text x="495.38" y="706.6" font-size="8.4" text-anchor="middle" fill="#2a2a2a" stroke="#2a2a2a" stroke-width="0.22" >0</text>
<text x="46.3" y="719.2" font-size="8.4" text-anchor="end" fill="#4299bd" stroke="#4299bd" stroke-width="0.22" textLength="9.8" lengthAdjust="spacingAndGlyphs">PR</text>
<text x="63.2" y="719.2" font-size="8.4" text-anchor="middle" fill="#2a2a2a" stroke="#2a2a2a" stroke-width="0.22" >10</text>
<text x="94.07" y="719.2" font-size="8.4" text-anchor="middle" fill="#2a2a2a" stroke="#2a2a2a" stroke-width="0.22" >10</text>
<text x="124.94" y="719.2" font-size="8.4" text-anchor="middle" fill="#2a2a2a" stroke="#2a2a2a" stroke-width="0.22" >6</text>
<text x="155.81" y="719.2" font-size="8.4" text-anchor="middle" fill="#2a2a2a" stroke="#2a2a2a" stroke-width="0.22" >5</text>
<text x="186.68" y="719.2" font-size="8.4" text-anchor="middle" fill="#2a2a2a" stroke="#2a2a2a" stroke-width="0.22" >2</text>
<text x="217.55" y="719.2" font-size="8.4" text-anchor="middle" fill="#2a2a2a" stroke="#2a2a2a" stroke-width="0.22" >1</text>
<text x="248.42" y="719.2" font-size="8.4" text-anchor="middle" fill="#2a2a2a" stroke="#2a2a2a" stroke-width="0.22" >0</text>
<text x="279.29" y="719.2" font-size="8.4" text-anchor="middle" fill="#2a2a2a" stroke="#2a2a2a" stroke-width="0.22" >0</text>
<text x="310.16" y="719.2" font-size="8.4" text-anchor="middle" fill="#2a2a2a" stroke="#2a2a2a" stroke-width="0.22" >0</text>
<text x="341.03" y="719.2" font-size="8.4" text-anchor="middle" fill="#2a2a2a" stroke="#2a2a2a" stroke-width="0.22" >0</text>
<text x="371.9" y="719.2" font-size="8.4" text-anchor="middle" fill="#2a2a2a" stroke="#2a2a2a" stroke-width="0.22" >0</text>
<text x="402.77" y="719.2" font-size="8.4" text-anchor="middle" fill="#2a2a2a" stroke="#2a2a2a" stroke-width="0.22" >0</text>
<text x="433.64" y="719.2" font-size="8.4" text-anchor="middle" fill="#2a2a2a" stroke="#2a2a2a" stroke-width="0.22" >0</text>
<text x="464.51" y="719.2" font-size="8.4" text-anchor="middle" fill="#2a2a2a" stroke="#2a2a2a" stroke-width="0.22" >0</text>
<text x="495.38" y="719.2" font-size="8.4" text-anchor="middle" fill="#2a2a2a" stroke="#2a2a2a" stroke-width="0.22" >0</text>
<text x="46.3" y="732" font-size="8.4" text-anchor="end" fill="#a8264a" stroke="#a8264a" stroke-width="0.22" textLength="9.8" lengthAdjust="spacingAndGlyphs">All</text>
<text x="63.2" y="732" font-size="8.4" text-anchor="middle" fill="#2a2a2a" stroke="#2a2a2a" stroke-width="0.22" >60</text>
<text x="94.07" y="732" font-size="8.4" text-anchor="middle" fill="#2a2a2a" stroke="#2a2a2a" stroke-width="0.22" >42</text>
<text x="124.94" y="732" font-size="8.4" text-anchor="middle" fill="#2a2a2a" stroke="#2a2a2a" stroke-width="0.22" >30</text>
<text x="155.81" y="732" font-size="8.4" text-anchor="middle" fill="#2a2a2a" stroke="#2a2a2a" stroke-width="0.22" >24</text>
<text x="186.68" y="732" font-size="8.4" text-anchor="middle" fill="#2a2a2a" stroke="#2a2a2a" stroke-width="0.22" >15</text>
<text x="217.55" y="732" font-size="8.4" text-anchor="middle" fill="#2a2a2a" stroke="#2a2a2a" stroke-width="0.22" >12</text>
<text x="248.42" y="732" font-size="8.4" text-anchor="middle" fill="#2a2a2a" stroke="#2a2a2a" stroke-width="0.22" >3</text>
<text x="279.29" y="732" font-size="8.4" text-anchor="middle" fill="#2a2a2a" stroke="#2a2a2a" stroke-width="0.22" >3</text>
<text x="310.16" y="732" font-size="8.4" text-anchor="middle" fill="#2a2a2a" stroke="#2a2a2a" stroke-width="0.22" >2</text>
<text x="341.03" y="732" font-size="8.4" text-anchor="middle" fill="#2a2a2a" stroke="#2a2a2a" stroke-width="0.22" >2</text>
<text x="371.9" y="732" font-size="8.4" text-anchor="middle" fill="#2a2a2a" stroke="#2a2a2a" stroke-width="0.22" >2</text>
<text x="402.77" y="732" font-size="8.4" text-anchor="middle" fill="#2a2a2a" stroke="#2a2a2a" stroke-width="0.22" >2</text>
<text x="433.64" y="732" font-size="8.4" text-anchor="middle" fill="#2a2a2a" stroke="#2a2a2a" stroke-width="0.22" >2</text>
<text x="464.51" y="732" font-size="8.4" text-anchor="middle" fill="#2a2a2a" stroke="#2a2a2a" stroke-width="0.22" >1</text>
<text x="495.38" y="732" font-size="8.4" text-anchor="middle" fill="#2a2a2a" stroke="#2a2a2a" stroke-width="0.22" >0</text>
<path d="M64.2 519.7 L141.9 519.7 L141.9 527.3 L220.1 527.3 L220.1 539.2 L225.6 539.2 L225.6 552.7 L480.7 552.7" fill="none" stroke="#5aaa55" stroke-width="1.5" stroke-linejoin="miter"/>
<path d="M115.9 519.7h4.4" stroke="#5aaa55" stroke-width="1.3"/><path d="M118.1 517.1v5.2" stroke="#2f5f2f" stroke-width="1.1"/>
<path d="M118.2 519.7h4.4" stroke="#5aaa55" stroke-width="1.3"/><path d="M120.4 517.1v5.2" stroke="#2f5f2f" stroke-width="1.1"/>
<path d="M139.7 519.7h4.4" stroke="#5aaa55" stroke-width="1.3"/><path d="M141.9 517.1v5.2" stroke="#2f5f2f" stroke-width="1.1"/>
<path d="M152 527.3h4.4" stroke="#5aaa55" stroke-width="1.3"/><path d="M154.2 524.7v5.2" stroke="#2f5f2f" stroke-width="1.1"/>
<path d="M161.2 527.3h4.4" stroke="#5aaa55" stroke-width="1.3"/><path d="M163.4 524.7v5.2" stroke="#2f5f2f" stroke-width="1.1"/>
<path d="M168.1 527.3h4.4" stroke="#5aaa55" stroke-width="1.3"/><path d="M170.3 524.7v5.2" stroke="#2f5f2f" stroke-width="1.1"/>
<path d="M170.9 527.3h4.4" stroke="#5aaa55" stroke-width="1.3"/><path d="M173.1 524.7v5.2" stroke="#2f5f2f" stroke-width="1.1"/>
<path d="M215.5 527.3h4.4" stroke="#5aaa55" stroke-width="1.3"/><path d="M217.7 524.7v5.2" stroke="#2f5f2f" stroke-width="1.1"/>
<path d="M223.5 539.2h4.4" stroke="#5aaa55" stroke-width="1.3"/><path d="M225.7 536.6v5.2" stroke="#2f5f2f" stroke-width="1.1"/>
<path d="M232.4 552.7h4.4" stroke="#5aaa55" stroke-width="1.3"/><path d="M234.6 550.1v5.2" stroke="#2f5f2f" stroke-width="1.1"/>
<path d="M233.4 552.7h4.4" stroke="#5aaa55" stroke-width="1.3"/><path d="M235.6 550.1v5.2" stroke="#2f5f2f" stroke-width="1.1"/>
<path d="M242 552.7h4.4" stroke="#5aaa55" stroke-width="1.3"/><path d="M244.2 550.1v5.2" stroke="#2f5f2f" stroke-width="1.1"/>
<path d="M284 552.7h4.4" stroke="#5aaa55" stroke-width="1.3"/><path d="M286.2 550.1v5.2" stroke="#2f5f2f" stroke-width="1.1"/>
<path d="M457.8 552.7h4.4" stroke="#5aaa55" stroke-width="1.3"/><path d="M460 550.1v5.2" stroke="#2f5f2f" stroke-width="1.1"/>
<path d="M478.5 552.7h4.4" stroke="#5aaa55" stroke-width="1.3"/><path d="M480.7 550.1v5.2" stroke="#2f5f2f" stroke-width="1.1"/>
<path d="M64.2 519.7 L110.7 519.7 L110.7 533.8 L114.7 533.8 L114.7 548.2 L118.8 548.2 L118.8 562.3 L163.8 562.3 L163.8 579.5 L195.5 579.5 L195.5 614.2 L242.7 614.2" fill="none" stroke="#4a9fc8" stroke-width="1.5" stroke-linejoin="miter"/>
<path d="M67.7 519.7h4.4" stroke="#4a9fc8" stroke-width="1.3"/><path d="M69.9 517.1v5.2" stroke="#2a5f80" stroke-width="1.1"/>
<path d="M95.6 519.7h4.4" stroke="#4a9fc8" stroke-width="1.3"/><path d="M97.8 517.1v5.2" stroke="#2a5f80" stroke-width="1.1"/>
<path d="M133.5 562.3h4.4" stroke="#4a9fc8" stroke-width="1.3"/><path d="M135.7 559.7v5.2" stroke="#2a5f80" stroke-width="1.1"/>
<path d="M167.4 579.5h4.4" stroke="#4a9fc8" stroke-width="1.3"/><path d="M169.6 576.9v5.2" stroke="#2a5f80" stroke-width="1.1"/>
<path d="M182.4 579.5h4.4" stroke="#4a9fc8" stroke-width="1.3"/><path d="M184.6 576.9v5.2" stroke="#2a5f80" stroke-width="1.1"/>
<path d="M240.5 614.2h4.4" stroke="#4a9fc8" stroke-width="1.3"/><path d="M242.7 611.6v5.2" stroke="#2a5f80" stroke-width="1.1"/>
<path d="M64.2 519.7 L64.5 519.7 L64.5 521.5 L66 521.5 L66 523.5 L67.3 523.5 L67.3 524.8 L70 524.8 L70 526.8 L72.3 526.8 L72.3 528 L74.2 528 L74.2 529.5 L75.6 529.5 L75.6 532 L76.6 532 L76.6 535 L78.1 535 L78.1 538.5 L78.8 538.5 L78.8 544.2 L85 544.2 L85 545.6 L88.8 545.6 L88.8 547.5 L90 547.5 L90 550.5 L91.3 550.5 L91.3 553 L92.7 553 L92.7 555.4 L97.3 555.4 L97.3 556.9 L102.7 556.9 L102.7 559.4 L104.2 559.4 L104.2 561.5 L106.5 561.5 L106.5 563.8 L109 563.8 L109 565.5 L113.5 565.5 L113.5 567.8 L115.2 567.8 L115.2 570 L117.2 570 L117.2 572.3 L121.5 572.3 L121.5 573.8 L123.3 573.8 L123.3 575.5 L125.8 575.5 L125.8 577.8 L143.1 577.8 L143.1 581.2 L165 581.2 L165 583.5 L168.5 583.5 L168.5 585.8 L170.2 585.8 L170.2 587.8 L171.9 587.8 L171.9 589.7 L195 589.7 L195 593.9 L206.4 593.9 L206.4 597.9 L220.8 597.9 L220.8 601.7 L225.6 601.7 L225.6 607.1 L480.7 607.1" fill="none" stroke="#ad2149" stroke-width="1.5" stroke-linejoin="miter"/>
<path d="M66.6 524.8h4.4" stroke="#ad2149" stroke-width="1.3"/><path d="M68.8 522.2v5.2" stroke="#5e1028" stroke-width="1.1"/>
<path d="M95.1 555.4h4.4" stroke="#ad2149" stroke-width="1.3"/><path d="M97.3 552.8v5.2" stroke="#5e1028" stroke-width="1.1"/>
<path d="M116.6 572.3h4.4" stroke="#ad2149" stroke-width="1.3"/><path d="M118.8 569.7v5.2" stroke="#5e1028" stroke-width="1.1"/>
<path d="M133.5 577.8h4.4" stroke="#ad2149" stroke-width="1.3"/><path d="M135.7 575.2v5.2" stroke="#5e1028" stroke-width="1.1"/>
<path d="M139 577.8h4.4" stroke="#ad2149" stroke-width="1.3"/><path d="M141.2 575.2v5.2" stroke="#5e1028" stroke-width="1.1"/>
<path d="M140.4 577.8h4.4" stroke="#ad2149" stroke-width="1.3"/><path d="M142.6 575.2v5.2" stroke="#5e1028" stroke-width="1.1"/>
<path d="M151.3 581.2h4.4" stroke="#ad2149" stroke-width="1.3"/><path d="M153.5 578.6v5.2" stroke="#5e1028" stroke-width="1.1"/>
<path d="M152.9 581.2h4.4" stroke="#ad2149" stroke-width="1.3"/><path d="M155.1 578.6v5.2" stroke="#5e1028" stroke-width="1.1"/>
<path d="M160.5 581.2h4.4" stroke="#ad2149" stroke-width="1.3"/><path d="M162.7 578.6v5.2" stroke="#5e1028" stroke-width="1.1"/>
<path d="M168.3 585.8h4.4" stroke="#ad2149" stroke-width="1.3"/><path d="M170.5 583.2v5.2" stroke="#5e1028" stroke-width="1.1"/>
<path d="M170.3 589.7h4.4" stroke="#ad2149" stroke-width="1.3"/><path d="M172.5 587.1v5.2" stroke="#5e1028" stroke-width="1.1"/>
<path d="M182 589.7h4.4" stroke="#ad2149" stroke-width="1.3"/><path d="M184.2 587.1v5.2" stroke="#5e1028" stroke-width="1.1"/>
<path d="M215.7 597.9h4.4" stroke="#ad2149" stroke-width="1.3"/><path d="M217.9 595.3v5.2" stroke="#5e1028" stroke-width="1.1"/>
<path d="M222.8 601.7h4.4" stroke="#ad2149" stroke-width="1.3"/><path d="M225 599.1v5.2" stroke="#5e1028" stroke-width="1.1"/>
<path d="M232.4 607.1h4.4" stroke="#ad2149" stroke-width="1.3"/><path d="M234.6 604.5v5.2" stroke="#5e1028" stroke-width="1.1"/>
<path d="M233.4 607.1h4.4" stroke="#ad2149" stroke-width="1.3"/><path d="M235.6 604.5v5.2" stroke="#5e1028" stroke-width="1.1"/>
<path d="M238.6 607.1h4.4" stroke="#ad2149" stroke-width="1.3"/><path d="M240.8 604.5v5.2" stroke="#5e1028" stroke-width="1.1"/>
<path d="M241.6 607.1h4.4" stroke="#ad2149" stroke-width="1.3"/><path d="M243.8 604.5v5.2" stroke="#5e1028" stroke-width="1.1"/>
<path d="M284.3 607.1h4.4" stroke="#ad2149" stroke-width="1.3"/><path d="M286.5 604.5v5.2" stroke="#5e1028" stroke-width="1.1"/>
<path d="M456.8 607.1h4.4" stroke="#ad2149" stroke-width="1.3"/><path d="M459 604.5v5.2" stroke="#5e1028" stroke-width="1.1"/>
<path d="M478.5 607.1h4.4" stroke="#ad2149" stroke-width="1.3"/><path d="M480.7 604.5v5.2" stroke="#5e1028" stroke-width="1.1"/>
<rect x="0.5" y="0.5" width="519" height="740" fill="none" stroke="#4d4d4d" stroke-width="1.1"/>
</svg>
</body></html>
